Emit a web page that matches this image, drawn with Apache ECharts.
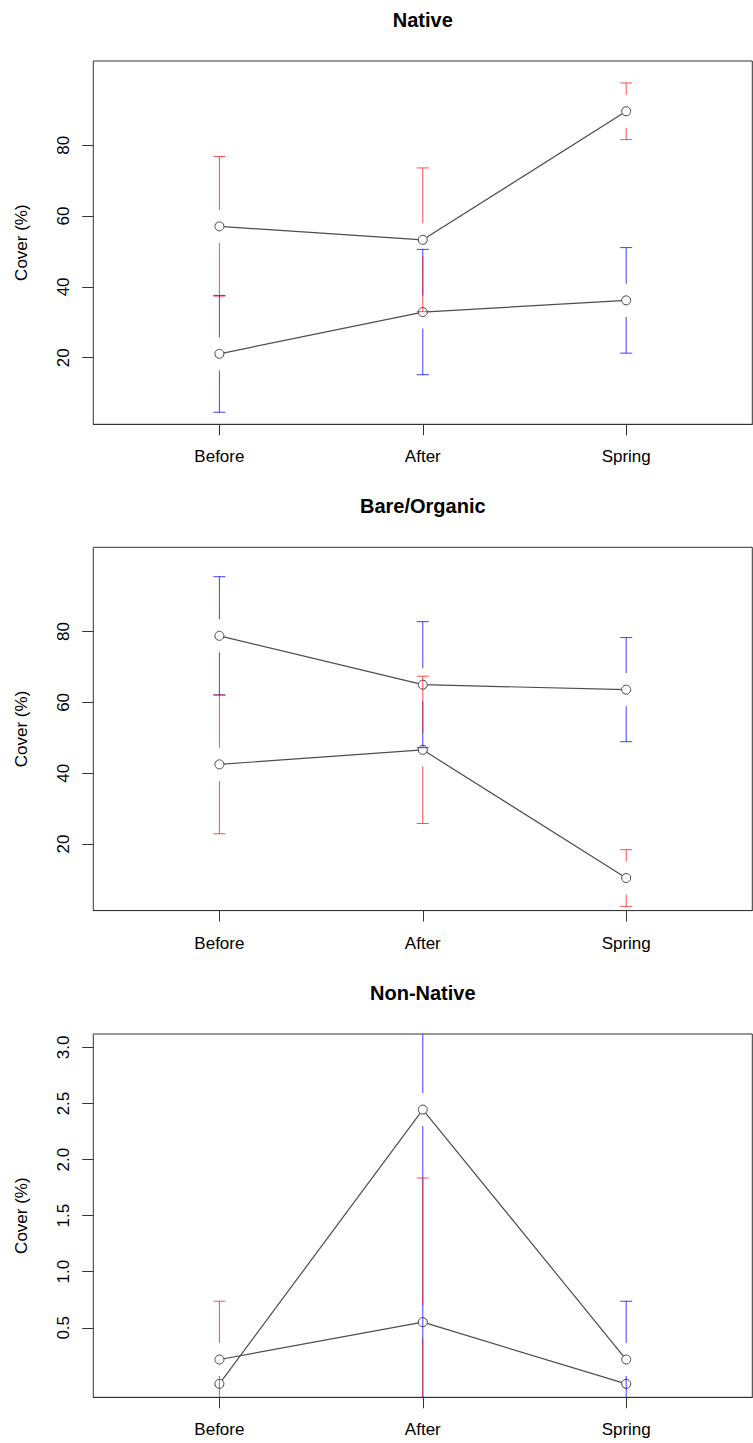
<!DOCTYPE html>
<html>
<head>
<meta charset="utf-8">
<script src="https://cdn.jsdelivr.net/npm/echarts@6/dist/echarts.min.js"></script>
<style>
html,body{margin:0;padding:0;background:#fff;}
#chart{width:753px;height:1443px;}
</style>
</head>
<body>
<div id="chart"></div>
<script>
// ---- data ----
const categories = ['Before', 'After', 'Spring'];
const panelTitles = ['Native', 'Bare/Organic', 'Non-Native'];

const nativeRedMean = [57.1, 53.3, 89.6];
const nativeRedSd   = [19.7, 20.3, 8.0];
const nativeBlueMean = [21.1, 32.9, 36.2];
const nativeBlueSd   = [16.5, 17.7, 14.9];

const bareRedMean = [42.5, 46.6, 10.4];
const bareRedSd   = [19.6, 20.8, 8.0];
const bareBlueMean = [78.8, 65.0, 63.6];
const bareBlueSd   = [16.7, 17.8, 14.7];

const nonRedMean = [0.217, 0.55, 0];
const nonRedSd   = [0.52, 1.286, 0];
const nonBlueMean = [0, 2.446, 0.217];
const nonBlueSd   = [0, 2.7, 0.52];

const yTicksPct = [20, 40, 60, 80];
const yTicksNon = [0.5, 1.0, 1.5, 2.0, 2.5, 3.0];

// ---- layout ----
const FONT = 'Liberation Sans, Arial, Helvetica, sans-serif';
const gridLeft = 93.3, gridWidth = 659, gridHeight = 363.3;
const gridTops = [61, 547.3, 1034];
const yRanges = [[1.2, 103.8], [1.2, 103.8], [-0.12, 3.12]];
const yTickSets = [yTicksPct, yTicksPct, yTicksNon];
const panels = [
  {red: nativeRedMean, redSd: nativeRedSd, blue: nativeBlueMean, blueSd: nativeBlueSd},
  {red: bareRedMean, redSd: bareRedSd, blue: bareBlueMean, blueSd: bareBlueSd},
  {red: nonRedMean, redSd: nonRedSd, blue: nonBlueMean, blueSd: nonBlueSd}
];

function errRender(color) {
  return function (params, api) {
    const x = api.value(0), y = api.value(1), sd = api.value(2);
    const children = [];
    if (sd > 0) {
      const c = api.coord([x, y]);
      const t = api.coord([x, y + sd]);
      const b = api.coord([x, y - sd]);
      const gap = 16.5, cw = 6;
      const style = {stroke: color, lineWidth: 1};
      if (c[1] - gap > t[1]) {
        children.push({type: 'line', shape: {x1: c[0], y1: c[1] - gap, x2: c[0], y2: t[1]}, style: style});
        children.push({type: 'line', shape: {x1: c[0] - cw, y1: t[1], x2: c[0] + cw, y2: t[1]}, style: style});
      }
      if (c[1] + gap < b[1]) {
        children.push({type: 'line', shape: {x1: c[0], y1: c[1] + gap, x2: c[0], y2: b[1]}, style: style});
        children.push({type: 'line', shape: {x1: c[0] - cw, y1: b[1], x2: c[0] + cw, y2: b[1]}, style: style});
      }
    }
    return {type: 'group', children: children};
  };
}

const grids = [], xAxes = [], yAxes = [], series = [], graphics = [];
panels.forEach(function (p, k) {
  grids.push({left: gridLeft, top: gridTops[k], width: gridWidth, height: gridHeight,
    show: true, borderColor: '#333', borderWidth: 1, backgroundColor: 'transparent'});
  xAxes.push({
    gridIndex: k, type: 'value', min: 0.38, max: 3.62,
    splitLine: {show: false},
    axisLine: {show: true, onZero: false, lineStyle: {color: '#333', width: 1}},
    axisTick: {show: true, customValues: [1, 2, 3], length: 11, lineStyle: {color: '#333'}},
    axisLabel: {customValues: [1, 2, 3], margin: 24, color: '#000', fontSize: 17, fontFamily: FONT,
      formatter: function (v) { return categories[Math.round(v) - 1]; }}
  });
  const ticks = yTickSets[k];
  yAxes.push({
    gridIndex: k, type: 'value', min: yRanges[k][0], max: yRanges[k][1],
    splitLine: {show: false},
    axisLine: {show: false, onZero: false},
    axisTick: {show: true, customValues: ticks, length: 11, lineStyle: {color: '#333'}},
    axisLabel: {customValues: ticks, rotate: 90, margin: 21, color: '#000', fontSize: 17, fontFamily: FONT,
      formatter: function (v) { return k === 2 ? Number(v).toFixed(1) : String(Math.round(v)); }},
    name: 'Cover (%)', nameLocation: 'middle', nameGap: 63,
    nameTextStyle: {color: '#000', fontSize: 17, fontFamily: FONT}
  });
  const lineBase = {
    type: 'line', xAxisIndex: k, yAxisIndex: k, z: 2,
    symbol: 'circle', symbolSize: 9, showSymbol: true, showAllSymbol: true,
    lineStyle: {color: '#4d4d4d', width: 1.2},
    itemStyle: {color: '#ffffff', borderColor: '#444', borderWidth: 1},
    emphasis: {disabled: true}
  };
  series.push(Object.assign({}, lineBase, {name: panelTitles[k] + ' A', data: p.red.map(function (v, i) { return [i + 1, v]; })}));
  series.push(Object.assign({}, lineBase, {name: panelTitles[k] + ' B', data: p.blue.map(function (v, i) { return [i + 1, v]; })}));
  series.push({
    type: 'custom', xAxisIndex: k, yAxisIndex: k, z: 3, clip: true,
    renderItem: errRender('rgba(0,0,255,0.75)'),
    encode: {x: 0, y: 1},
    data: p.blue.map(function (v, i) { return [i + 1, v, p.blueSd[i]]; })
  });
  series.push({
    type: 'custom', xAxisIndex: k, yAxisIndex: k, z: 4, clip: true,
    renderItem: errRender('rgba(255,0,0,0.7)'),
    encode: {x: 0, y: 1},
    data: p.red.map(function (v, i) { return [i + 1, v, p.redSd[i]]; })
  });
  graphics.push({
    type: 'text', x: gridLeft + gridWidth / 2, y: gridTops[k] - 41.5,
    style: {text: panelTitles[k], textAlign: 'center', textVerticalAlign: 'middle',
      font: 'bold 20px ' + FONT, fill: '#000'}
  });
});

const chart = echarts.init(document.getElementById('chart'), null, {renderer: 'svg'});
chart.setOption({
  animation: false,
  backgroundColor: '#fff',
  grid: grids,
  xAxis: xAxes,
  yAxis: yAxes,
  series: series,
  graphic: graphics
});
</script>
</body>
</html>
